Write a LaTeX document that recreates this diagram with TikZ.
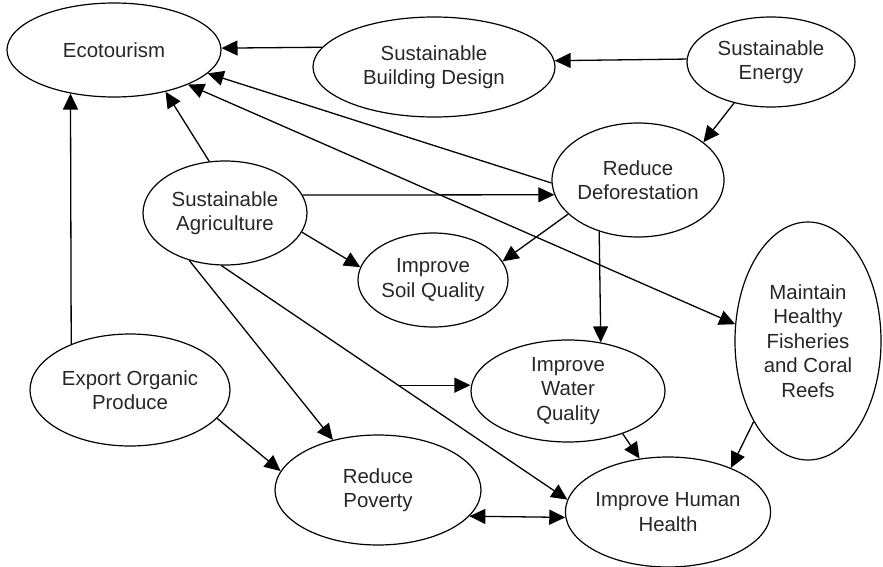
\documentclass[tikz,border=0pt]{standalone}
\usepackage{fontspec}
\setmainfont{Liberation Sans}
\usetikzlibrary{shapes.geometric}
\usetikzlibrary{arrows.meta}

\begin{document}
\begin{tikzpicture}[x=0.5pt,y=-0.5pt]

\tikzset{
    topic/.style={ellipse,draw,line width=0.6pt,inner sep=0pt,align=center,
        text=black!85,font=\fontsize{10.2}{12.2}\selectfont},
    edge/.style={-{Triangle[length=8pt,width=7.5pt]},line width=0.65pt},
    twoway/.style={{Triangle[length=8pt,width=7.5pt]}-{Triangle[length=8pt,width=7.5pt]},line width=0.65pt}
}
\useasboundingbox (0,0) rectangle (883,567);

% ------------ nodes ------------ %
\node[topic, minimum width=107pt, minimum height=47pt] (eco) at (114,50) {Ecotourism};
\node[topic, minimum width=121pt, minimum height=50pt] (bld) at (434,67) {Sustainable\\Building Design};
\node[topic, minimum width=84pt, minimum height=45pt] (nrg) at (771,62) {Sustainable\\Energy};
\node[topic, minimum width=86pt, minimum height=57pt] (defo) at (638,180) {Reduce\\Deforestation};
\node[topic, minimum width=82pt, minimum height=52pt] (agri) at (225,213) {Sustainable\\Agriculture};
\node[topic, minimum width=75pt, minimum height=47pt] (soil) at (433,280) {Improve\\Soil Quality};
\node[topic, minimum width=73pt, minimum height=119pt] (fish) at (808,341) {Maintain\\Healthy\\Fisheries\\and Coral\\Reefs};
\node[topic, minimum width=100pt, minimum height=56pt] (expo) at (130,390) {Export Organic\\Produce};
\node[topic, minimum width=97pt, minimum height=51pt] (water) at (568,391) {Improve\\Water\\Quality};
\node[topic, minimum width=103pt, minimum height=55pt] (pov) at (378,490) {Reduce\\Poverty};
\node[topic, minimum width=98pt, minimum height=55pt] (health) at (668,512) {Improve Human\\Health};

% ------------ edges into ecotourism ------------ %
\draw[edge] (bld.170.4) -- (eco.1.1);
\draw[edge] (defo.182) -- (eco.-14.3);
\draw[twoway] (fish.167) -- (eco.-25.4);
\draw[edge] (agri.107.8) -- (eco.-39.5);
\draw[edge] (expo.142.5) -- (eco.225);

% ------------ other edges ------------ %
\draw[edge] (nrg.178.6) -- (bld.3.4);
\draw[edge] (nrg.228.7) -- (defo.30.7);
\draw[edge] (agri.13.2) -- (defo.190.2);
\draw[edge] (agri.-14) -- (soil.170.7);
\draw[edge] (defo.206.6) -- (soil.15);
\draw[edge] (defo.233.3) -- (water.56.3);
\draw[edge] (agri.233.7) -- (pov.132.2);
\draw[edge] (agri.266.7) -- coordinate[pos=0.511] (br) (health.173);
\draw[edge] (br) -- (br -| water.west);
\draw[edge] (expo.-18) -- (pov.169.3);
\draw[edge] (water.-38.7) -- (health.118.3);
\draw[edge] (fish.236.8) -- (health.35.4);
\draw[twoway] (pov.-16.7) -- (health.183);

\end{tikzpicture}
\end{document}
